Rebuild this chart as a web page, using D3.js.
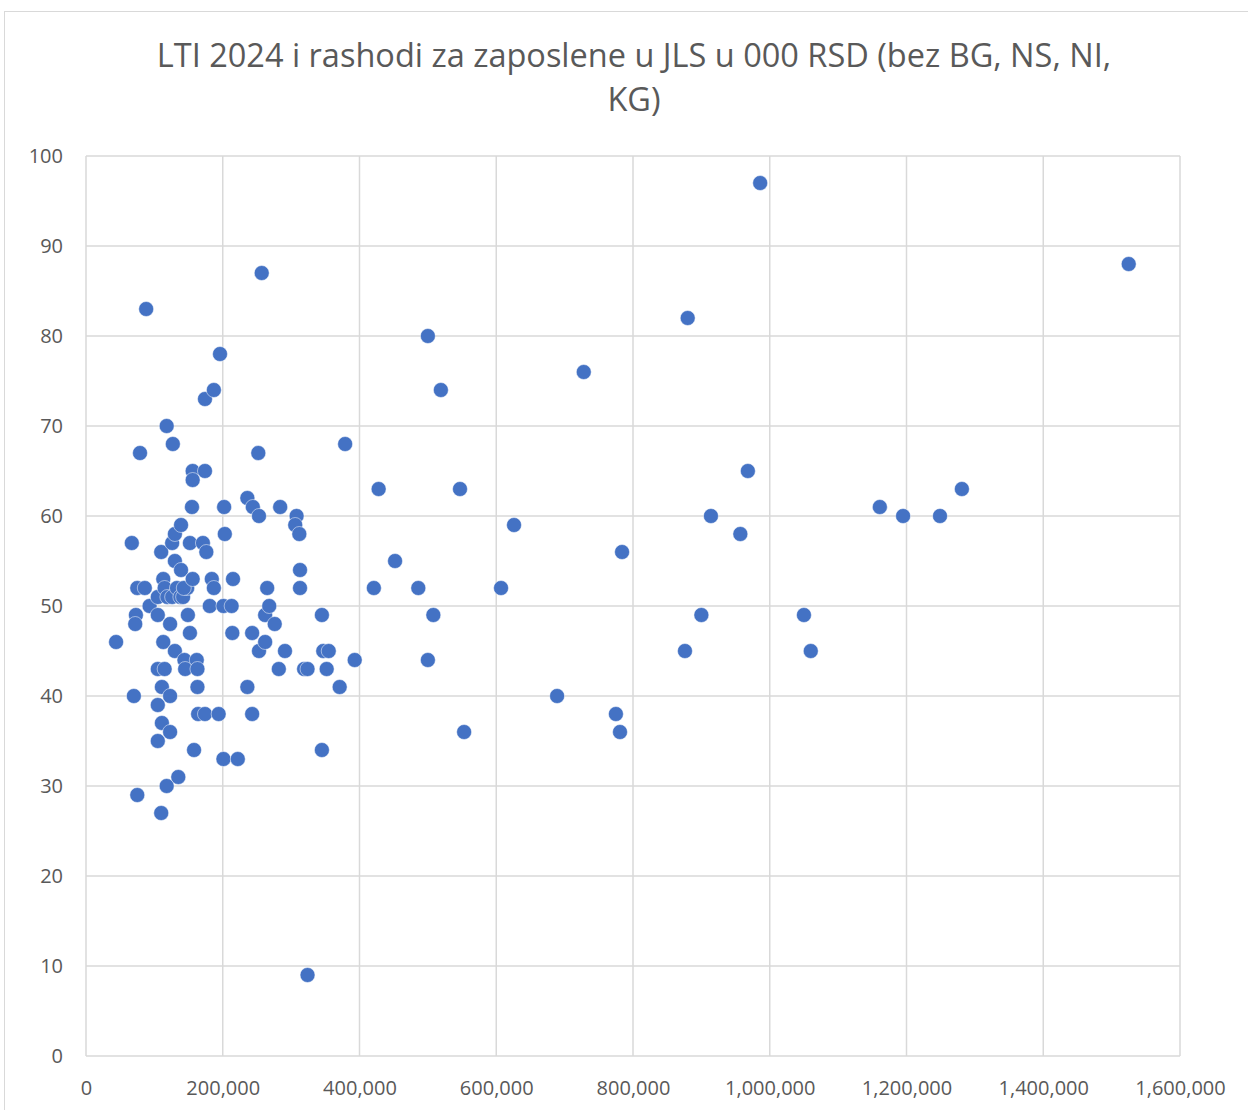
<!DOCTYPE html>
<html lang="en">
<head>
<meta charset="UTF-8">
<title>LTI 2024 i rashodi za zaposlene</title>
<script src="https://cdn.jsdelivr.net/npm/d3@7/dist/d3.min.js"></script>
<style>
  body { margin: 0; background: #fff; }
  text { font-family: "Open Sans", "Noto Sans", sans-serif; fill: #595959; }
</style>
</head>
<body>
<script>
  // rashodi za zaposlene (000 RSD) and LTI
  var rashodi = [44000, 67000, 75000, 86000, 73000, 72000, 70000, 75000, 79000, 88000,
                 93000, 105000, 110000, 105000, 115000, 105000, 105000, 110000, 111000, 113000,
                 113000, 111000, 118000, 118000, 123000, 123000, 123000, 127000, 126000, 130000,
                 130000, 130000, 135000, 139000, 139000, 105000, 115000, 119000, 126000, 133000,
                 138000, 142000, 148000, 143000, 144000, 162000, 145000, 163000, 149000, 152000,
                 152000, 156000, 156000, 156000, 174000, 155000, 158000, 163000, 164000, 174000,
                 194000, 171000, 176000, 174000, 181000, 184000, 187000, 187000, 196000, 202000,
                 203000, 201000, 201000, 213000, 215000, 214000, 222000, 236000, 236000, 244000,
                 243000, 243000, 252000, 253000, 253000, 257000, 262000, 262000, 265000, 268000,
                 276000, 282000, 284000, 291000, 308000, 306000, 312000, 313000, 313000, 319000,
                 324000, 324000, 345000, 345000, 347000, 355000, 352000, 371000, 379000, 393000,
                 421000, 428000, 452000, 486000, 500000, 500000, 508000, 519000, 547000, 553000,
                 607000, 626000, 689000, 728000, 775000, 781000, 784000, 876000, 880000, 900000,
                 914000, 957000, 968000, 986000, 1050000, 1060000, 1161000, 1195000, 1249000, 1281000,
                 1525000];
  var lti = [46, 57, 52, 52, 49, 48, 40, 29, 67, 83,
             50, 49, 56, 43, 43, 39, 35, 27, 41, 46,
             53, 37, 30, 70, 48, 40, 36, 68, 57, 58,
             55, 45, 31, 59, 54, 51, 52, 51, 51, 52,
             51, 51, 52, 52, 44, 44, 43, 43, 49, 47,
             57, 53, 65, 64, 65, 61, 34, 41, 38, 38,
             38, 57, 56, 73, 50, 53, 74, 52, 78, 61,
             58, 33, 50, 50, 53, 47, 33, 41, 62, 61,
             47, 38, 67, 60, 45, 87, 46, 49, 52, 50,
             48, 43, 61, 45, 60, 59, 58, 54, 52, 43,
             43, 9, 49, 34, 45, 45, 43, 41, 68, 44,
             52, 63, 55, 52, 80, 44, 49, 74, 63, 36,
             52, 59, 40, 76, 38, 36, 56, 45, 82, 49,
             60, 58, 65, 97, 49, 45, 61, 60, 60, 63,
             88];
  var xTicks = [0, 200000, 400000, 600000, 800000, 1000000, 1200000, 1400000, 1600000];
  var yTicks = [0, 10, 20, 30, 40, 50, 60, 70, 80, 90, 100];
  var titleLines = ["LTI 2024 i rashodi za zaposlene u JLS u 000 RSD (bez BG, NS, NI,", "KG)"];

  var width = 1248, height = 1110;
  var plotL = 86, plotR = 1180, plotT = 156, plotB = 1056;

  var svg = d3.select('body').append('svg')
              .attr('width', width).attr('height', height);

  // chart frame
  svg.append('rect')
     .attr('x', 4.5).attr('y', 11.5)
     .attr('width', 1400).attr('height', 1300)
     .attr('fill', 'none').attr('stroke', '#d9d9d9');

  var x = d3.scaleLinear().domain([0, 1600000]).range([plotL, plotR]);
  var y = d3.scaleLinear().domain([0, 100]).range([plotB, plotT]);

  // title
  svg.append('text')
     .attr('x', 634).attr('y', 67)
     .attr('text-anchor', 'middle')
     .style('font-size', '32.5px')
     .selectAll('tspan').data(titleLines).enter().append('tspan')
     .attr('x', 634).attr('dy', (d, i) => i ? 44 : 0)
     .text(d => d);

  // grid
  var grid = svg.append('g');
  grid.selectAll('.gx').data(xTicks).enter().append('line')
      .attr('x1', d => x(d)).attr('x2', d => x(d))
      .attr('y1', plotT).attr('y2', plotB)
      .attr('stroke', '#d9d9d9').attr('stroke-width', 1.5);
  grid.selectAll('.gy').data(yTicks).enter().append('line')
      .attr('x1', plotL).attr('x2', plotR)
      .attr('y1', d => y(d)).attr('y2', d => y(d))
      .attr('stroke', '#d9d9d9').attr('stroke-width', 1.5);

  // axes (labels only, lines come from grid)
  var fmt = d3.format(',');
  var xAxis = svg.append('g')
                 .attr('transform', 'translate(0,' + plotB + ')')
                 .call(d3.axisBottom(x).tickValues(xTicks).tickFormat(fmt).tickSize(0).tickPadding(25));
  var yAxis = svg.append('g')
                 .attr('transform', 'translate(' + plotL + ',0)')
                 .call(d3.axisLeft(y).tickValues(yTicks).tickSize(0).tickPadding(23));
  [xAxis, yAxis].forEach(a => {
    a.select('.domain').remove();
    a.selectAll('text').style('font-size', '20px').attr('fill', '#595959')
     .style('font-family', '"Open Sans", sans-serif');
  });

  // points
  var pts = rashodi.map((v, i) => ({x: v, y: lti[i]}));
  svg.append('g').selectAll('circle').data(pts).enter().append('circle')
     .attr('cx', d => x(d.x)).attr('cy', d => y(d.y))
     .attr('r', 7.5)
     .attr('fill', '#4472c4')
     .attr('stroke', '#ffffff').attr('stroke-width', 0.5);
</script>
</body>
</html>
